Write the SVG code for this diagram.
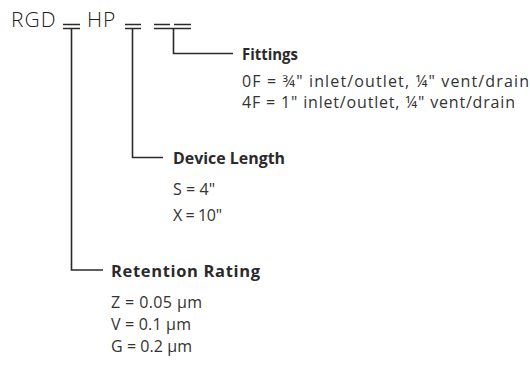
<svg xmlns="http://www.w3.org/2000/svg" width="530" height="373" viewBox="0 0 530 373">
<style>
.t{font-family:"Open Sans","Noto Sans","Liberation Sans",sans-serif;fill:#2a2a2a}
.code{font-size:21px;font-weight:300;letter-spacing:1px;fill:#222}
.h{font-family:"Open Sans","Noto Sans","Liberation Sans",sans-serif;font-weight:700;font-size:16.5px;fill:#2a2a2a}
.v{font-size:16px;font-weight:400;fill:#333}
.ln{fill:none;stroke:#2a2a2a;stroke-width:1.6}
</style>
<rect width="530" height="373" fill="#fff"/>
<g id="code">
<text class="t code" x="11" y="27">RGD</text>
<text class="t code" x="87" y="27">HP</text>
</g>
<g id="connectors">
<path class="ln" d="M63 24.5H80M125 24.5H141M154 24.5H170M174 24.5H191"/>
<path class="ln" d="M63 28.5H80M125 28.5H141M154 28.5H191"/>
<path class="ln" d="M71.5 28.5V270H103"/>
<path class="ln" d="M132.5 28.5V157.5H163"/>
<path class="ln" d="M173.5 28.5V53.5H233"/>
</g>
<g id="fittings">
<text class="h" x="242" y="60" textLength="56" lengthAdjust="spacingAndGlyphs">Fittings</text>
<text class="t v" x="242" y="87" textLength="287" lengthAdjust="spacing">0F = ¾" inlet/outlet, ¼" vent/drain</text>
<text class="t v" x="242" y="108" textLength="273" lengthAdjust="spacing">4F = 1" inlet/outlet, ¼" vent/drain</text>
</g>
<g id="device-length">
<text class="h" x="173" y="164" textLength="112" lengthAdjust="spacingAndGlyphs">Device Length</text>
<text class="t v" x="173" y="195" textLength="42" lengthAdjust="spacing">S = 4"</text>
<text class="t v" x="173" y="221" textLength="49" lengthAdjust="spacing">X = 10"</text>
</g>
<g id="retention-rating">
<text class="h" x="111" y="277" textLength="149" lengthAdjust="spacing">Retention Rating</text>
<text class="t v" x="111" y="308" textLength="91" lengthAdjust="spacing">Z = 0.05 µm</text>
<text class="t v" x="111" y="330" textLength="80" lengthAdjust="spacing">V = 0.1 µm</text>
<text class="t v" x="111" y="352" textLength="81" lengthAdjust="spacing">G = 0.2 µm</text>
</g>
</svg>
